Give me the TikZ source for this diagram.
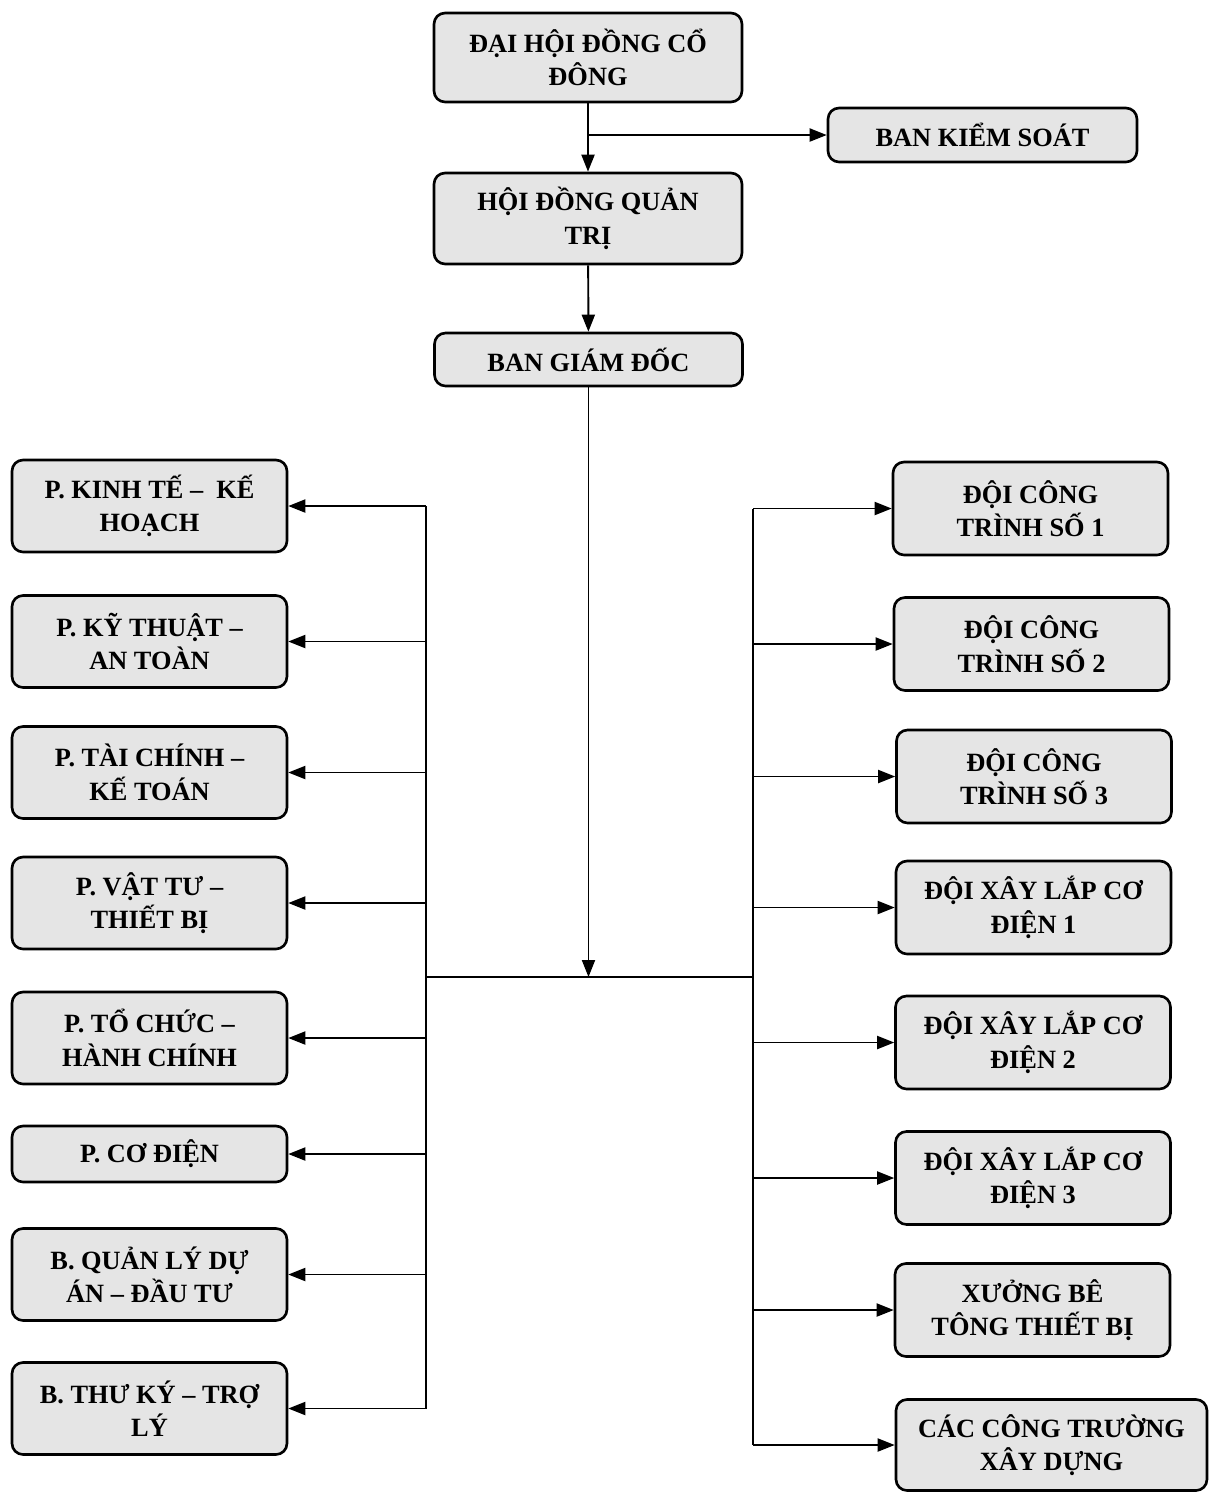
\documentclass[tikz,border=0pt]{standalone}
\usepackage{fontspec}
\setmainfont{Liberation Serif}
\usepackage{tikz}
\usetikzlibrary{arrows.meta}

\begin{document}
\begin{tikzpicture}[x=0.02cm,y=-0.02cm]
\tikzstyle{every path}=[line width=1.1pt]

\tikzstyle{unit}=[draw,line width=1.5pt,rounded corners=0.22cm,fill=black!10,
align=center,inner sep=2pt,font=\fontsize{15}{19}\selectfont\bfseries]
\tikzstyle{topunit}=[unit,minimum width=6.16cm]
\tikzstyle{leftunit}=[unit,minimum width=5.5cm,minimum height=1.84cm]
\tikzstyle{rightunit}=[unit,minimum width=5.5cm,minimum height=1.86cm]
\tikzstyle{link}=[-{Triangle[length=0.34cm,width=0.26cm]}]

\useasboundingbox (0,0) rectangle (1209,1492);

%% Draw top of the company
\node [topunit,minimum height=1.78cm] (dhdcd) at (588,57.5) {ĐẠI HỘI ĐỒNG CỔ\\ĐÔNG};
\node [unit,minimum width=6.18cm,minimum height=1.08cm] (bks) at (982.5,135) {BAN KIỂM SOÁT};
\node [topunit,minimum height=1.82cm] (hdqt) at (588,218.5) {HỘI ĐỒNG QUẢN\\TRỊ};
\node [topunit,minimum height=1.06cm] (bgd) at (588.5,359.5) {BAN GIÁM ĐỐC};

%% Draw departments (left)
\node [leftunit] (kths) at (149.5,506) {P. KINH TẾ –\ \ KẾ\\HOẠCH};
\node [leftunit] (ktat) at (149.5,641.5) {P. KỸ THUẬT –\\AN TOÀN};
\node [leftunit] (tckt) at (149.5,772.5) {P. TÀI CHÍNH –\\KẾ TOÁN};
\node [leftunit] (vttb) at (149.5,903) {P. VẬT TƯ –\\THIẾT BỊ};
\node [leftunit] (tchc) at (149.5,1038) {P. TỔ CHỨC –\\HÀNH CHÍNH};
\node [leftunit,minimum height=1.12cm] (cd) at (149.5,1154) {P. CƠ ĐIỆN};
\node [leftunit] (qlda) at (149.5,1274.5) {B. QUẢN LÝ DỰ\\ÁN – ĐẦU TƯ};
\node [leftunit] (tktl) at (149.5,1408.5) {B. THƯ KÝ – TRỢ\\LÝ};

%% Draw teams (right)
\node [rightunit] (ct1) at (1030.5,508.5) {ĐỘI CÔNG\\TRÌNH SỐ 1};
\node [rightunit] (ct2) at (1031.5,644) {ĐỘI CÔNG\\TRÌNH SỐ 2};
\node [rightunit] (ct3) at (1034,776.5) {ĐỘI CÔNG\\TRÌNH SỐ 3};
\node [rightunit] (xl1) at (1033.5,907.5) {ĐỘI XÂY LẮP CƠ\\ĐIỆN 1};
\node [rightunit] (xl2) at (1033,1042.5) {ĐỘI XÂY LẮP CƠ\\ĐIỆN 2};
\node [rightunit] (xl3) at (1033,1178) {ĐỘI XÂY LẮP CƠ\\ĐIỆN 3};
\node [rightunit] (xbt) at (1032.5,1310) {XƯỞNG BÊ\\TÔNG THIẾT BỊ};
\node [rightunit,minimum width=6.22cm,minimum height=1.82cm] (cctr) at (1051.5,1445) {CÁC CÔNG TRƯỜNG\\XÂY DỰNG};

%% Connect top
\coordinate (split) at (dhdcd.south |- bks.west);
\draw [link] (dhdcd) -- (hdqt);
\draw [link] (split) -- (bks);
\draw [link] (hdqt) -- (bgd);

%% Bus below the board of directors
\coordinate (lbus) at (426,977);
\coordinate (rbus) at (753,977);
\draw (lbus) -- (rbus);
\draw [link] (bgd) -- (bgd.south |- lbus);

%% Left branches
\draw (lbus |- kths.east) -- (lbus |- tktl.east);
\draw [link] (lbus |- kths.east) -- (kths);
\draw [link] (lbus |- ktat.east) -- (ktat);
\draw [link] (lbus |- tckt.east) -- (tckt);
\draw [link] (lbus |- vttb.east) -- (vttb);
\draw [link] (lbus |- tchc.east) -- (tchc);
\draw [link] (lbus |- cd.east) -- (cd);
\draw [link] (lbus |- qlda.east) -- (qlda);
\draw [link] (lbus |- tktl.east) -- (tktl);

%% Right branches
\draw (rbus |- ct1.west) -- (rbus |- cctr.west);
\draw [link] (rbus |- ct1.west) -- (ct1);
\draw [link] (rbus |- ct2.west) -- (ct2);
\draw [link] (rbus |- ct3.west) -- (ct3);
\draw [link] (rbus |- xl1.west) -- (xl1);
\draw [link] (rbus |- xl2.west) -- (xl2);
\draw [link] (rbus |- xl3.west) -- (xl3);
\draw [link] (rbus |- xbt.west) -- (xbt);
\draw [link] (rbus |- cctr.west) -- (cctr);
\end{tikzpicture}
\end{document}
